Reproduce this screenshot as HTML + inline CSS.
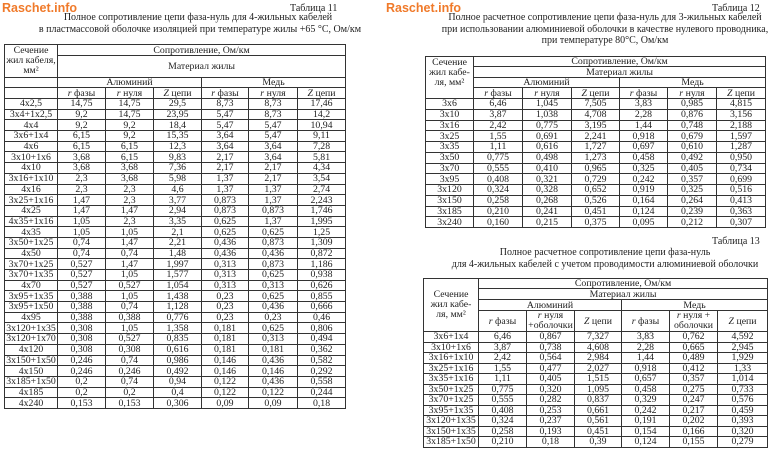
<!DOCTYPE html>
<html><head><meta charset="utf-8"><style>
body{margin:0;width:768px;height:452px;background:#fff;position:relative;overflow:hidden;font-family:"Liberation Serif","Noto Serif CJK SC",serif;color:#222}
.logo{position:absolute;left:2px;top:1px;font-family:"Liberation Sans",sans-serif;font-weight:bold;font-size:12.5px;color:#f07a2a}
.t{position:absolute;font-size:10px;line-height:11.5px;white-space:nowrap}
table{position:absolute;border-collapse:collapse;table-layout:fixed;font-size:9.8px}
td{border:1px solid #333;text-align:center;padding:0;line-height:9px;overflow:hidden;white-space:nowrap}
i{font-style:italic}
</style></head><body>
<div class="logo">Raschet.info</div>
<div class="t" style="left:290px;top:3px">Таблица 11</div>
<div class="t" style="left:0;width:384px;top:12px;text-align:center;padding-left:12px;box-sizing:border-box">Полное сопротивление цепи фаза-нуль для 4-жильных кабелей</div>
<div class="t" style="left:0;width:384px;top:24px;text-align:center;padding-left:16px;box-sizing:border-box">в пластмассовой оболочке изоляцией при температуре жилы +65 °С, Ом/км</div>

<table style="left:4px;top:44px;width:341px">
<colgroup><col style="width:53px"><col style="width:48px"><col style="width:48px"><col style="width:48px"><col style="width:47px"><col style="width:49px"><col style="width:48px"></colgroup>
<tr style="height:11px"><td rowspan="2" style="line-height:10px">Сечение<br>жил кабеля,<br>мм²</td><td colspan="6">Сопротивление, Ом/км</td></tr>
<tr style="height:22px"><td colspan="6">Материал жилы</td></tr>
<tr style="height:10px"><td></td><td colspan="3">Алюминий</td><td colspan="3">Медь</td></tr>
<tr style="height:11px"><td></td><td><i>r</i> фазы</td><td><i>r</i> нуля</td><td><i>Z</i> цепи</td><td><i>r</i> фазы</td><td><i>r</i> нуля</td><td><i>Z</i> цепи</td></tr>
<tr style="height:10.7px"><td>4x2,5</td><td>14,75</td><td>14,75</td><td>29,5</td><td>8,73</td><td>8,73</td><td>17,46</td></tr>
<tr style="height:10.7px"><td>3x4+1x2,5</td><td>9,2</td><td>14,75</td><td>23,95</td><td>5,47</td><td>8,73</td><td>14,2</td></tr>
<tr style="height:10.7px"><td>4x4</td><td>9,2</td><td>9,2</td><td>18,4</td><td>5,47</td><td>5,47</td><td>10,94</td></tr>
<tr style="height:10.7px"><td>3x6+1x4</td><td>6,15</td><td>9,2</td><td>15,35</td><td>3,64</td><td>5,47</td><td>9,11</td></tr>
<tr style="height:10.7px"><td>4x6</td><td>6,15</td><td>6,15</td><td>12,3</td><td>3,64</td><td>3,64</td><td>7,28</td></tr>
<tr style="height:10.7px"><td>3x10+1x6</td><td>3,68</td><td>6,15</td><td>9,83</td><td>2,17</td><td>3,64</td><td>5,81</td></tr>
<tr style="height:10.7px"><td>4x10</td><td>3,68</td><td>3,68</td><td>7,36</td><td>2,17</td><td>2,17</td><td>4,34</td></tr>
<tr style="height:10.7px"><td>3x16+1x10</td><td>2,3</td><td>3,68</td><td>5,98</td><td>1,37</td><td>2,17</td><td>3,54</td></tr>
<tr style="height:10.7px"><td>4x16</td><td>2,3</td><td>2,3</td><td>4,6</td><td>1,37</td><td>1,37</td><td>2,74</td></tr>
<tr style="height:10.7px"><td>3x25+1x16</td><td>1,47</td><td>2,3</td><td>3,77</td><td>0,873</td><td>1,37</td><td>2,243</td></tr>
<tr style="height:10.7px"><td>4x25</td><td>1,47</td><td>1,47</td><td>2,94</td><td>0,873</td><td>0,873</td><td>1,746</td></tr>
<tr style="height:10.7px"><td>4x35+1x16</td><td>1,05</td><td>2,3</td><td>3,35</td><td>0,625</td><td>1,37</td><td>1,995</td></tr>
<tr style="height:10.7px"><td>4x35</td><td>1,05</td><td>1,05</td><td>2,1</td><td>0,625</td><td>0,625</td><td>1,25</td></tr>
<tr style="height:10.7px"><td>3x50+1x25</td><td>0,74</td><td>1,47</td><td>2,21</td><td>0,436</td><td>0,873</td><td>1,309</td></tr>
<tr style="height:10.7px"><td>4x50</td><td>0,74</td><td>0,74</td><td>1,48</td><td>0,436</td><td>0,436</td><td>0,872</td></tr>
<tr style="height:10.7px"><td>3x70+1x25</td><td>0,527</td><td>1,47</td><td>1,997</td><td>0,313</td><td>0,873</td><td>1,186</td></tr>
<tr style="height:10.7px"><td>3x70+1x35</td><td>0,527</td><td>1,05</td><td>1,577</td><td>0,313</td><td>0,625</td><td>0,938</td></tr>
<tr style="height:10.7px"><td>4x70</td><td>0,527</td><td>0,527</td><td>1,054</td><td>0,313</td><td>0,313</td><td>0,626</td></tr>
<tr style="height:10.7px"><td>3x95+1x35</td><td>0,388</td><td>1,05</td><td>1,438</td><td>0,23</td><td>0,625</td><td>0,855</td></tr>
<tr style="height:10.7px"><td>3x95+1x50</td><td>0,388</td><td>0,74</td><td>1,128</td><td>0,23</td><td>0,436</td><td>0,666</td></tr>
<tr style="height:10.7px"><td>4x95</td><td>0,388</td><td>0,388</td><td>0,776</td><td>0,23</td><td>0,23</td><td>0,46</td></tr>
<tr style="height:10.7px"><td>3x120+1x35</td><td>0,308</td><td>1,05</td><td>1,358</td><td>0,181</td><td>0,625</td><td>0,806</td></tr>
<tr style="height:10.7px"><td>3x120+1x70</td><td>0,308</td><td>0,527</td><td>0,835</td><td>0,181</td><td>0,313</td><td>0,494</td></tr>
<tr style="height:10.7px"><td>4x120</td><td>0,308</td><td>0,308</td><td>0,616</td><td>0,181</td><td>0,181</td><td>0,362</td></tr>
<tr style="height:10.7px"><td>3x150+1x50</td><td>0,246</td><td>0,74</td><td>0,986</td><td>0,146</td><td>0,436</td><td>0,582</td></tr>
<tr style="height:10.7px"><td>4x150</td><td>0,246</td><td>0,246</td><td>0,492</td><td>0,146</td><td>0,146</td><td>0,292</td></tr>
<tr style="height:10.7px"><td>3x185+1x50</td><td>0,2</td><td>0,74</td><td>0,94</td><td>0,122</td><td>0,436</td><td>0,558</td></tr>
<tr style="height:10.7px"><td>4x185</td><td>0,2</td><td>0,2</td><td>0,4</td><td>0,122</td><td>0,122</td><td>0,244</td></tr>
<tr style="height:10.7px"><td>4x240</td><td>0,153</td><td>0,153</td><td>0,306</td><td>0,09</td><td>0,09</td><td>0,18</td></tr>
</table>

<div class="logo" style="left:386px">Raschet.info</div>
<div class="t" style="left:712px;top:3px">Таблица 12</div>
<div class="t" style="left:440px;width:330px;top:12px;text-align:center">Полное расчетное сопротивление цепи фаза-нуль для 3-жильных кабелей</div>
<div class="t" style="left:440px;width:330px;top:24px;text-align:center">при использовании алюминиевой оболочки в качестве нулевого проводника,</div>
<div class="t" style="left:440px;width:330px;top:35px;text-align:center">при температуре 80°С, Ом/км</div>

<table style="left:425px;top:56px;width:340px">
<colgroup><col style="width:48px"><col style="width:49px"><col style="width:49px"><col style="width:48px"><col style="width:48px"><col style="width:49px"><col style="width:49px"></colgroup>
<tr style="height:10px"><td rowspan="4" style="line-height:10px;vertical-align:top;padding-top:1px">Сечение<br>жил кабе-<br>ля, мм²</td><td colspan="6">Сопротивление, Ом/км</td></tr>
<tr style="height:11px"><td colspan="6">Материал жилы</td></tr>
<tr style="height:10px"><td colspan="3">Алюминий</td><td colspan="3">Медь</td></tr>
<tr style="height:11px"><td><i>r</i> фазы</td><td><i>r</i> нуля</td><td><i>Z</i> цепи</td><td><i>r</i> фазы</td><td><i>r</i> нуля</td><td><i>Z</i> цепи</td></tr>
<tr style="height:10.75px"><td>3x6</td><td>6,46</td><td>1,045</td><td>7,505</td><td>3,83</td><td>0,985</td><td>4,815</td></tr>
<tr style="height:10.75px"><td>3x10</td><td>3,87</td><td>1,038</td><td>4,708</td><td>2,28</td><td>0,876</td><td>3,156</td></tr>
<tr style="height:10.75px"><td>3x16</td><td>2,42</td><td>0,775</td><td>3,195</td><td>1,44</td><td>0,748</td><td>2,188</td></tr>
<tr style="height:10.75px"><td>3x25</td><td>1,55</td><td>0,691</td><td>2,241</td><td>0,918</td><td>0,679</td><td>1,597</td></tr>
<tr style="height:10.75px"><td>3x35</td><td>1,11</td><td>0,616</td><td>1,727</td><td>0,697</td><td>0,610</td><td>1,287</td></tr>
<tr style="height:10.75px"><td>3x50</td><td>0,775</td><td>0,498</td><td>1,273</td><td>0,458</td><td>0,492</td><td>0,950</td></tr>
<tr style="height:10.75px"><td>3x70</td><td>0,555</td><td>0,410</td><td>0,965</td><td>0,325</td><td>0,405</td><td>0,734</td></tr>
<tr style="height:10.75px"><td>3x95</td><td>0,408</td><td>0,321</td><td>0,729</td><td>0,242</td><td>0,357</td><td>0,699</td></tr>
<tr style="height:10.75px"><td>3x120</td><td>0,324</td><td>0,328</td><td>0,652</td><td>0,919</td><td>0,325</td><td>0,516</td></tr>
<tr style="height:10.75px"><td>3x150</td><td>0,258</td><td>0,268</td><td>0,526</td><td>0,164</td><td>0,264</td><td>0,413</td></tr>
<tr style="height:10.75px"><td>3x185</td><td>0,210</td><td>0,241</td><td>0,451</td><td>0,124</td><td>0,239</td><td>0,363</td></tr>
<tr style="height:10.75px"><td>3x240</td><td>0,160</td><td>0,215</td><td>0,375</td><td>0,095</td><td>0,212</td><td>0,307</td></tr>
</table>

<div class="t" style="left:712px;top:236px">Таблица 13</div>
<div class="t" style="left:440px;width:330px;top:247px;text-align:center">Полное расчетное сопротивление цепи фаза-нуль</div>
<div class="t" style="left:440px;width:330px;top:259px;text-align:center">для 4-жильных кабелей с учетом проводимости алюминиевой оболочки</div>

<table style="left:423px;top:278px;width:344px">
<colgroup><col style="width:55px"><col style="width:48px"><col style="width:48px"><col style="width:47px"><col style="width:48px"><col style="width:48px"><col style="width:50px"></colgroup>
<tr style="height:10px"><td rowspan="4" style="line-height:10px">Сечение<br>жил кабе-<br>ля, мм²</td><td colspan="6">Сопротивление, Ом/км</td></tr>
<tr style="height:11px"><td colspan="6">Материал жилы</td></tr>
<tr style="height:11px"><td colspan="3">Алюминий</td><td colspan="3">Медь</td></tr>
<tr style="height:21px"><td><i>r</i> фазы</td><td style="line-height:10px"><i>r</i> нуля<br>+оболочки</td><td><i>Z</i> цепи</td><td><i>r</i> фазы</td><td style="line-height:10px"><i>r</i> нуля +<br>оболочки</td><td><i>Z</i> цепи</td></tr>
<tr style="height:10.5px"><td>3x6+1x4</td><td>6,46</td><td>0,867</td><td>7,327</td><td>3,83</td><td>0,762</td><td>4,592</td></tr>
<tr style="height:10.5px"><td>3x10+1x6</td><td>3,87</td><td>0,738</td><td>4,608</td><td>2,28</td><td>0,665</td><td>2,945</td></tr>
<tr style="height:10.5px"><td>3x16+1x10</td><td>2,42</td><td>0,564</td><td>2,984</td><td>1,44</td><td>0,489</td><td>1,929</td></tr>
<tr style="height:10.5px"><td>3x25+1x16</td><td>1,55</td><td>0,477</td><td>2,027</td><td>0,918</td><td>0,412</td><td>1,33</td></tr>
<tr style="height:10.5px"><td>3x35+1x16</td><td>1,11</td><td>0,405</td><td>1,515</td><td>0,657</td><td>0,357</td><td>1,014</td></tr>
<tr style="height:10.5px"><td>3x50+1x25</td><td>0,775</td><td>0,320</td><td>1,095</td><td>0,458</td><td>0,275</td><td>0,733</td></tr>
<tr style="height:10.5px"><td>3x70+1x25</td><td>0,555</td><td>0,282</td><td>0,837</td><td>0,329</td><td>0,247</td><td>0,576</td></tr>
<tr style="height:10.5px"><td>3x95+1x35</td><td>0,408</td><td>0,253</td><td>0,661</td><td>0,242</td><td>0,217</td><td>0,459</td></tr>
<tr style="height:10.5px"><td>3x120+1x35</td><td>0,324</td><td>0,237</td><td>0,561</td><td>0,191</td><td>0,202</td><td>0,393</td></tr>
<tr style="height:10.5px"><td>3x150+1x35</td><td>0,258</td><td>0,193</td><td>0,451</td><td>0,154</td><td>0,166</td><td>0,320</td></tr>
<tr style="height:10.5px"><td>3x185+1x50</td><td>0,210</td><td>0,18</td><td>0,39</td><td>0,124</td><td>0,155</td><td>0,279</td></tr>
</table>
</body></html>
